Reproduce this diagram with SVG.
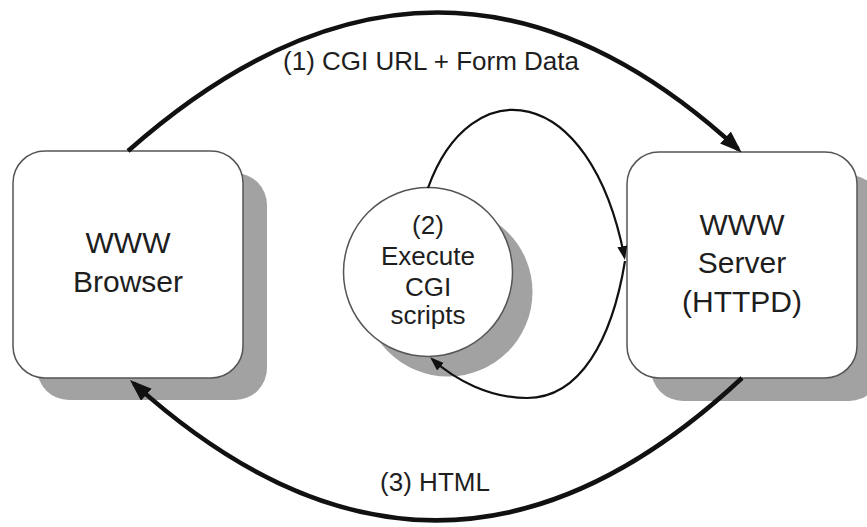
<svg xmlns="http://www.w3.org/2000/svg" width="867" height="527" viewBox="0 0 867 527">
  <style>
    .box { fill: #ffffff; stroke: #555555; stroke-width: 1.5; }
    .shadow { fill: #a2a2a2; }
    .label { font-family: "Liberation Sans", Arial, sans-serif; fill: #1e1e1e; text-anchor: middle; }
    .node { font-size: 30px; }
    .small { font-size: 26px; }
    .edge { fill: none; stroke: #111111; }
    .thick { stroke-width: 4.5; }
    .thin { stroke-width: 2.2; }
  </style>
  <defs>
    <marker id="bigArrow" markerUnits="userSpaceOnUse" markerWidth="24" markerHeight="18" refX="17" refY="8" orient="auto">
      <path d="M0,0 L22,8 L0,16 z" fill="#111111"/>
    </marker>
    <marker id="smallArrow" markerUnits="userSpaceOnUse" markerWidth="16" markerHeight="12" refX="11" refY="5" orient="auto">
      <path d="M0,0 L14,5 L0,10 z" fill="#111111"/>
    </marker>
  </defs>
  <rect width="867" height="527" fill="#ffffff"/>

  <g id="browser">
    <rect class="shadow" x="37" y="173" width="230" height="227" rx="32"/>
    <rect class="box" x="13" y="151" width="230" height="227" rx="32"/>
    <text class="label node" x="128" y="253">WWW</text>
    <text class="label node" x="128" y="292">Browser</text>
  </g>

  <g id="cgi">
    <circle class="shadow" cx="448" cy="292" r="84.5"/>
    <circle class="box" cx="428" cy="272" r="84.5"/>
    <text class="label small" x="428" y="234">(2)</text>
    <text class="label small" x="428" y="265">Execute</text>
    <text class="label small" x="428" y="296">CGI</text>
    <text class="label small" x="428" y="324">scripts</text>
  </g>

  <g id="server">
    <rect class="shadow" x="651" y="175" width="230" height="226" rx="32"/>
    <rect class="box" x="627" y="152" width="230" height="226" rx="32"/>
    <text class="label node" x="742" y="235">WWW</text>
    <text class="label node" x="742" y="273">Server</text>
    <text class="label node" x="742" y="312">(HTTPD)</text>
  </g>

  <g id="connectors">
    <path class="edge thick" d="M128,151 Q440,-125 738,149" marker-end="url(#bigArrow)"/>
    <text class="label small" x="431" y="70">(1) CGI URL + Form Data</text>
    <path class="edge thin" d="M428,188 C470,70 590,80 624.4,257" marker-end="url(#smallArrow)"/>
    <path class="edge thin" d="M625,261 C612,340 580,398 527,398 C490,398 455,380 432.3,359.3" marker-end="url(#smallArrow)"/>
    <path class="edge thick" d="M742,378 Q440,660 133.7,383.4" marker-end="url(#bigArrow)"/>
    <text class="label small" x="435" y="491">(3) HTML</text>
  </g>
</svg>
